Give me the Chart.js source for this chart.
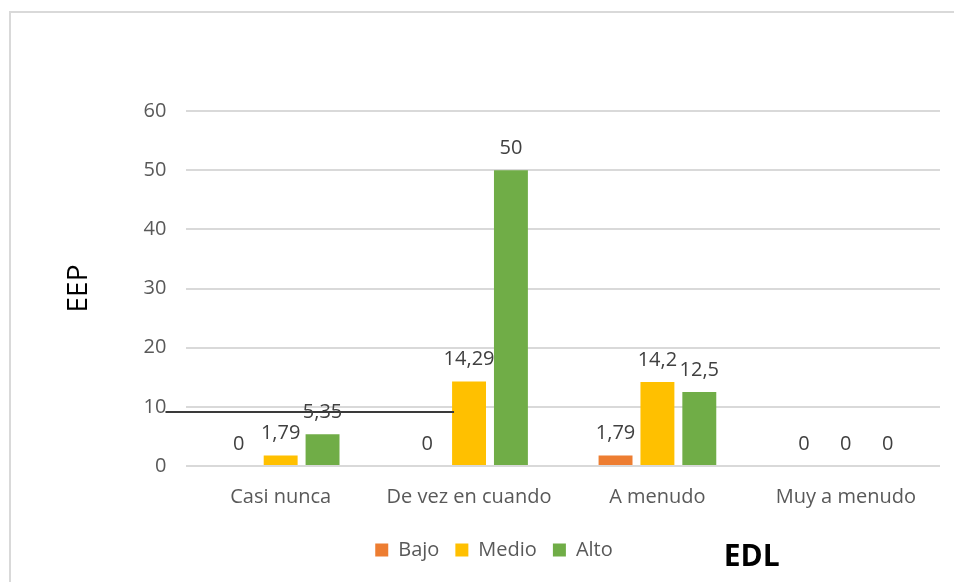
<!DOCTYPE html>
<html>
<head>
<meta charset="utf-8">
<script src="https://cdn.jsdelivr.net/npm/chart.js@4.4.1/dist/chart.umd.min.js"></script>
<style>
  html, body { margin: 0; padding: 0; background: #fff; overflow: hidden; }
  #frame { position: absolute; left: 9px; top: 11px; width: 1000px; height: 700px;
           border-left: 2px solid #d9d9d9; border-top: 2px solid #d9d9d9; }
  #wrap { position: absolute; left: 0; top: 0; width: 954px; height: 582px; }
</style>
</head>
<body>
<div id="frame"></div>
<div id="wrap"><canvas id="chart"></canvas></div>
<script>
// categories and series
const categories = ['Casi nunca', 'De vez en cuando', 'A menudo', 'Muy a menudo'];
const bajo = [0, 0, 1.79, 0];
const medio = [1.79, 14.29, 14.2, 0];
const alto = [5.35, 50, 12.5, 0];
const yTicks = [0, 10, 20, 30, 40, 50, 60];

const FONT = "'Open Sans', sans-serif";

// value labels above each bar, decimal comma like the original
const valueLabels = {
  id: 'valueLabels',
  afterDatasetsDraw(chart) {
    const ctx = chart.ctx;
    const area = chart.chartArea;
    const xs = chart.scales.x, ys = chart.scales.y;

    // the stray dark rule that sits across the first two groups
    ctx.save();
    ctx.strokeStyle = '#3a3a3a';
    ctx.lineWidth = 2;
    const ly = Math.round(ys.getPixelForValue(9.15));
    ctx.beginPath();
    ctx.moveTo(area.left - 21, ly);
    ctx.lineTo(xs.getPixelForValue(1) - 15, ly);
    ctx.stroke();
    ctx.restore();

    ctx.save();
    ctx.font = '20px ' + FONT;
    ctx.fillStyle = '#404040';
    ctx.textAlign = 'center';
    ctx.textBaseline = 'middle';
    chart.data.datasets.forEach((ds, i) => {
      chart.getDatasetMeta(i).data.forEach((bar, j) => {
        const txt = String(ds.data[j]).replace('.', ',');
        ctx.fillText(txt, bar.x, bar.y - 22);
      });
    });
    ctx.restore();
  },
  afterDraw(chart) {
    const ctx = chart.ctx;
    const xs = chart.scales.x;
    const lg = chart.legend;
    ctx.save();
    ctx.font = 'bold 30px ' + FONT;
    ctx.fillStyle = '#000';
    ctx.textAlign = 'center';
    ctx.textBaseline = 'middle';
    const x = (xs.getPixelForValue(2) + xs.getPixelForValue(3)) / 2;
    ctx.fillText('EDL', x, lg.top + 33);
    ctx.restore();
  }
};

const data = {
  labels: categories,
  datasets: [
    { label: 'Bajo', data: bajo, backgroundColor: '#ED7D31' },
    { label: 'Medio', data: medio, backgroundColor: '#FFC000' },
    { label: 'Alto', data: alto, backgroundColor: '#70AD47' }
  ]
};

const options = {
  responsive: true,
  maintainAspectRatio: false,
  animation: false,
  layout: { padding: { left: 48, right: 14, top: 111, bottom: 12 } },
  datasets: { bar: { categoryPercentage: 0.667, barPercentage: 0.81 } },
  scales: {
    x: {
      grid: { display: false, drawTicks: false },
      border: { display: false },
      ticks: { color: '#595959', font: { family: FONT, size: 20 }, padding: 19 },
      afterFit(scale) { scale.height -= 4; }
    },
    y: {
      min: 0,
      max: 60,
      afterBuildTicks(scale) { scale.ticks = yTicks.map(v => ({ value: v })); },
      grid: { color: '#d9d9d9', lineWidth: 2, drawTicks: false },
      border: { display: false },
      ticks: { color: '#595959', font: { family: FONT, size: 20 }, padding: 20 },
      title: {
        display: true,
        text: 'EEP',
        color: '#000',
        font: { family: FONT, size: 28 },
        padding: { top: 14, bottom: 28 }
      }
    }
  },
  plugins: {
    legend: {
      position: 'bottom',
      labels: {
        boxWidth: 13,
        boxHeight: 13,
        padding: 16,
        color: '#595959',
        font: { family: FONT, size: 20 }
      }
    },
    tooltip: { enabled: false }
  }
};

new Chart(document.getElementById('chart'), {
  type: 'bar',
  data: data,
  options: options,
  plugins: [valueLabels]
});
</script>
</body>
</html>
